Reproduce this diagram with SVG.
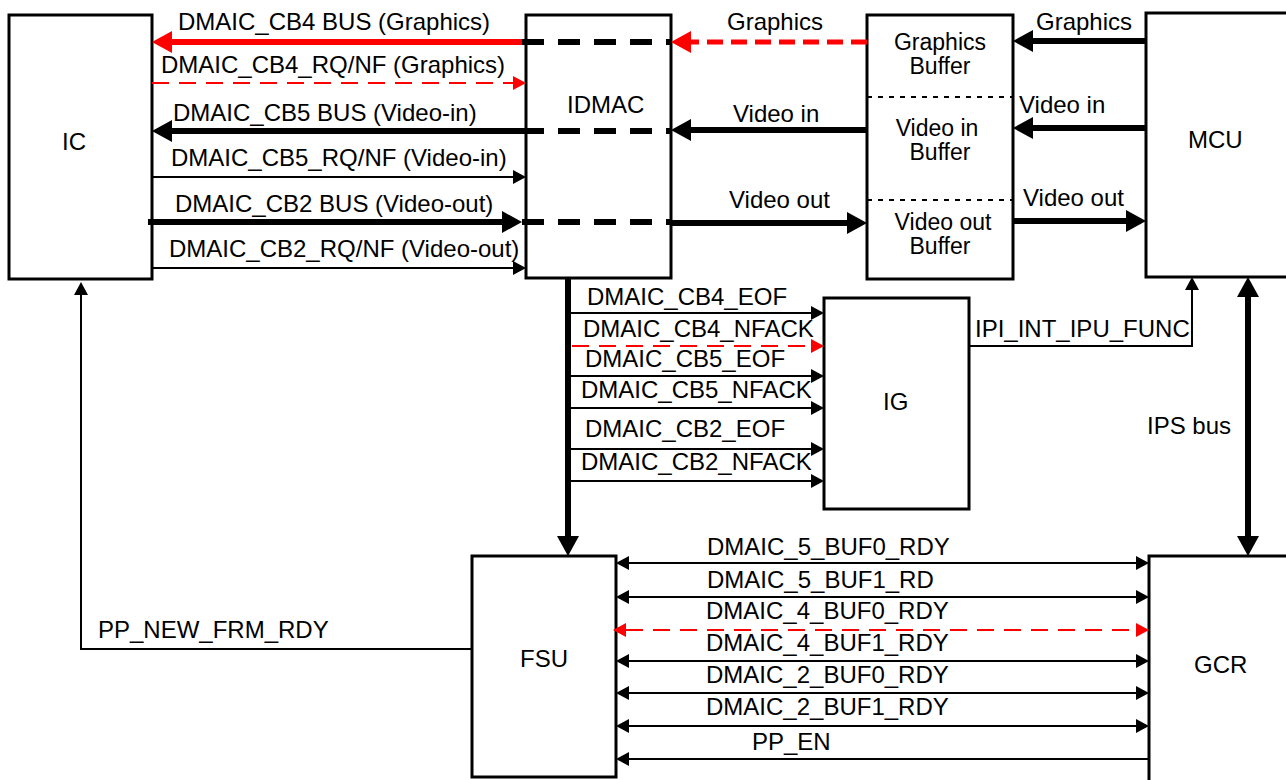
<svg xmlns="http://www.w3.org/2000/svg" width="1286" height="780" viewBox="0 0 1286 780">
<style>
text{font-family:"Liberation Sans",Arial,sans-serif;font-size:24px;fill:#000}
.box{fill:#fff;stroke:#000;stroke-width:3}
.thin{stroke:#000;stroke-width:2;fill:none}
.thick{stroke:#000;stroke-width:6;fill:none}
.thickr{stroke:#f00;stroke-width:6;fill:none}
.dashb{stroke:#000;stroke-width:6;stroke-dasharray:22 14;fill:none}
.dashr{stroke:#f00;stroke-width:5;stroke-dasharray:16 8;fill:none}
.dashrt{stroke:#f00;stroke-width:2;stroke-dasharray:17 10;fill:none}
.dot{stroke:#000;stroke-width:2;stroke-dasharray:5 6;fill:none}
.mid{text-anchor:middle}
.buf{font-size:23px}
</style>
<defs>
<marker id="ah" markerUnits="userSpaceOnUse" markerWidth="20" markerHeight="22" refX="0" refY="11" orient="auto-start-reverse"><path d="M0,0 L20,11 L0,22 z" fill="#000"/></marker>
<marker id="ahr" markerUnits="userSpaceOnUse" markerWidth="20" markerHeight="22" refX="0" refY="11" orient="auto-start-reverse"><path d="M0,0 L20,11 L0,22 z" fill="#f00"/></marker>
<marker id="at" markerUnits="userSpaceOnUse" markerWidth="13" markerHeight="14" refX="0" refY="7" orient="auto-start-reverse"><path d="M0,0 L13,7 L0,14 z" fill="#000"/></marker>
<marker id="atr" markerUnits="userSpaceOnUse" markerWidth="13" markerHeight="14" refX="0" refY="7" orient="auto-start-reverse"><path d="M0,0 L13,7 L0,14 z" fill="#f00"/></marker>
</defs>
<g id="IC"><rect class="box" x="9" y="15" width="143" height="264"/><text x="62" y="150">IC</text></g>
<g id="IDMAC"><rect class="box" x="526" y="15" width="145" height="263"/><text x="567" y="113">IDMAC</text></g>
<g id="Buffers"><rect class="box" x="867" y="15" width="146" height="264"/>
<line class="dot" x1="867" y1="97" x2="1013" y2="97"/><line class="dot" x1="867" y1="200" x2="1013" y2="200"/>
<text class="mid buf" x="940" y="50">Graphics</text><text class="mid buf" x="940" y="74">Buffer</text>
<text class="mid buf" x="937" y="136">Video in</text><text class="mid buf" x="940" y="160">Buffer</text>
<text class="mid buf" x="943" y="230">Video out</text><text class="mid buf" x="940" y="254">Buffer</text></g>
<g id="MCU"><rect class="box" x="1146" y="13" width="160" height="264"/><text x="1188" y="148">MCU</text></g>
<g id="IG"><rect class="box" x="824" y="298" width="145" height="211"/><text x="883" y="410">IG</text></g>
<g id="FSU"><rect class="box" x="472" y="556" width="144" height="221"/><text x="520" y="667">FSU</text></g>
<g id="GCR"><rect class="box" x="1149" y="556" width="160" height="240"/><text x="1194" y="673">GCR</text></g>
<g id="connectors">
<line class="thickr" x1="522" y1="42" x2="172" y2="42" marker-end="url(#ahr)"/>
<line class="dashb" x1="522" y1="42" x2="671" y2="42"/>
<line class="dashr" x1="867" y1="42" x2="691" y2="42" marker-end="url(#ahr)"/>
<line class="thick" x1="1146" y1="41" x2="1033" y2="41" marker-end="url(#ah)"/>
<line class="dashrt" x1="152" y1="83" x2="513" y2="83" marker-end="url(#atr)"/>
<line class="thick" x1="522" y1="131" x2="172" y2="131" marker-end="url(#ah)"/>
<line class="dashb" x1="522" y1="131" x2="671" y2="131"/>
<line class="thick" x1="867" y1="130" x2="691" y2="130" marker-end="url(#ah)"/>
<line class="thick" x1="1146" y1="128" x2="1033" y2="128" marker-end="url(#ah)"/>
<line class="thin" x1="152" y1="177" x2="513" y2="177" marker-end="url(#at)"/>
<line class="thick" x1="148" y1="222" x2="502" y2="222" marker-end="url(#ah)"/>
<line class="dashb" x1="522" y1="222" x2="671" y2="222"/>
<line class="thick" x1="671" y1="223" x2="847" y2="223" marker-end="url(#ah)"/>
<line class="thick" x1="1013" y1="221" x2="1126" y2="221" marker-end="url(#ah)"/>
<line class="thin" x1="152" y1="268" x2="513" y2="268" marker-end="url(#at)"/>
<line class="thick" x1="568" y1="278" x2="568" y2="536" marker-end="url(#ah)"/>
<line class="thin" x1="570" y1="313" x2="811" y2="313" marker-end="url(#at)"/>
<line class="dashrt" x1="572" y1="346" x2="811" y2="346" stroke-dasharray="20 17" marker-end="url(#atr)"/>
<line class="thin" x1="570" y1="376" x2="811" y2="376" marker-end="url(#at)"/>
<line class="thin" x1="570" y1="408" x2="811" y2="408" marker-end="url(#at)"/>
<line class="thin" x1="570" y1="449" x2="811" y2="449" marker-end="url(#at)"/>
<line class="thin" x1="570" y1="481" x2="811" y2="481" marker-end="url(#at)"/>
<polyline class="thin" points="969,346 1192,346 1192,290" marker-end="url(#at)"/>
<line class="thick" x1="1248" y1="297" x2="1248" y2="536" marker-start="url(#ah)" marker-end="url(#ah)"/>
<line class="thin" x1="629" y1="563" x2="1136" y2="563" marker-start="url(#at)" marker-end="url(#at)"/>
<line class="thin" x1="629" y1="597" x2="1136" y2="597" marker-start="url(#at)" marker-end="url(#at)"/>
<line class="dashrt" x1="626" y1="630" x2="1136" y2="630" stroke-dasharray="22 14" marker-start="url(#atr)" marker-end="url(#atr)"/>
<line class="thin" x1="629" y1="661" x2="1136" y2="661" marker-start="url(#at)" marker-end="url(#at)"/>
<line class="thin" x1="629" y1="693" x2="1136" y2="693" marker-start="url(#at)" marker-end="url(#at)"/>
<line class="thin" x1="629" y1="726" x2="1136" y2="726" marker-start="url(#at)" marker-end="url(#at)"/>
<line class="thin" x1="1149" y1="759" x2="629" y2="759" marker-end="url(#at)"/>
<polyline class="thin" points="472,649 81,649 81,295" marker-end="url(#at)"/>
</g>
<g id="labels">
<text x="178" y="30">DMAIC_CB4 BUS (Graphics)</text>
<text x="161" y="73">DMAIC_CB4_RQ/NF (Graphics)</text>
<text x="173" y="121">DMAIC_CB5 BUS (Video-in)</text>
<text x="171" y="166">DMAIC_CB5_RQ/NF (Video-in)</text>
<text x="175" y="212">DMAIC_CB2 BUS (Video-out)</text>
<text x="169" y="257">DMAIC_CB2_RQ/NF (Video-out)</text>
<text x="727" y="30">Graphics</text>
<text x="733" y="122">Video in</text>
<text x="729" y="208">Video out</text>
<text x="1036" y="30">Graphics</text>
<text x="1019" y="113">Video in</text>
<text x="1023" y="206">Video out</text>
<text x="587" y="305">DMAIC_CB4_EOF</text>
<text x="583" y="337">DMAIC_CB4_NFACK</text>
<text x="585" y="367">DMAIC_CB5_EOF</text>
<text x="581" y="398">DMAIC_CB5_NFACK</text>
<text x="585" y="437">DMAIC_CB2_EOF</text>
<text x="581" y="470">DMAIC_CB2_NFACK</text>
<text x="975" y="337">IPI_INT_IPU_FUNC</text>
<text x="1147" y="434">IPS bus</text>
<text x="707" y="555">DMAIC_5_BUF0_RDY</text>
<text x="707" y="588">DMAIC_5_BUF1_RD</text>
<text x="706" y="619">DMAIC_4_BUF0_RDY</text>
<text x="706" y="651">DMAIC_4_BUF1_RDY</text>
<text x="706" y="683">DMAIC_2_BUF0_RDY</text>
<text x="706" y="715">DMAIC_2_BUF1_RDY</text>
<text x="752" y="750">PP_EN</text>
<text x="98" y="638">PP_NEW_FRM_RDY</text>
</g>
</svg>
